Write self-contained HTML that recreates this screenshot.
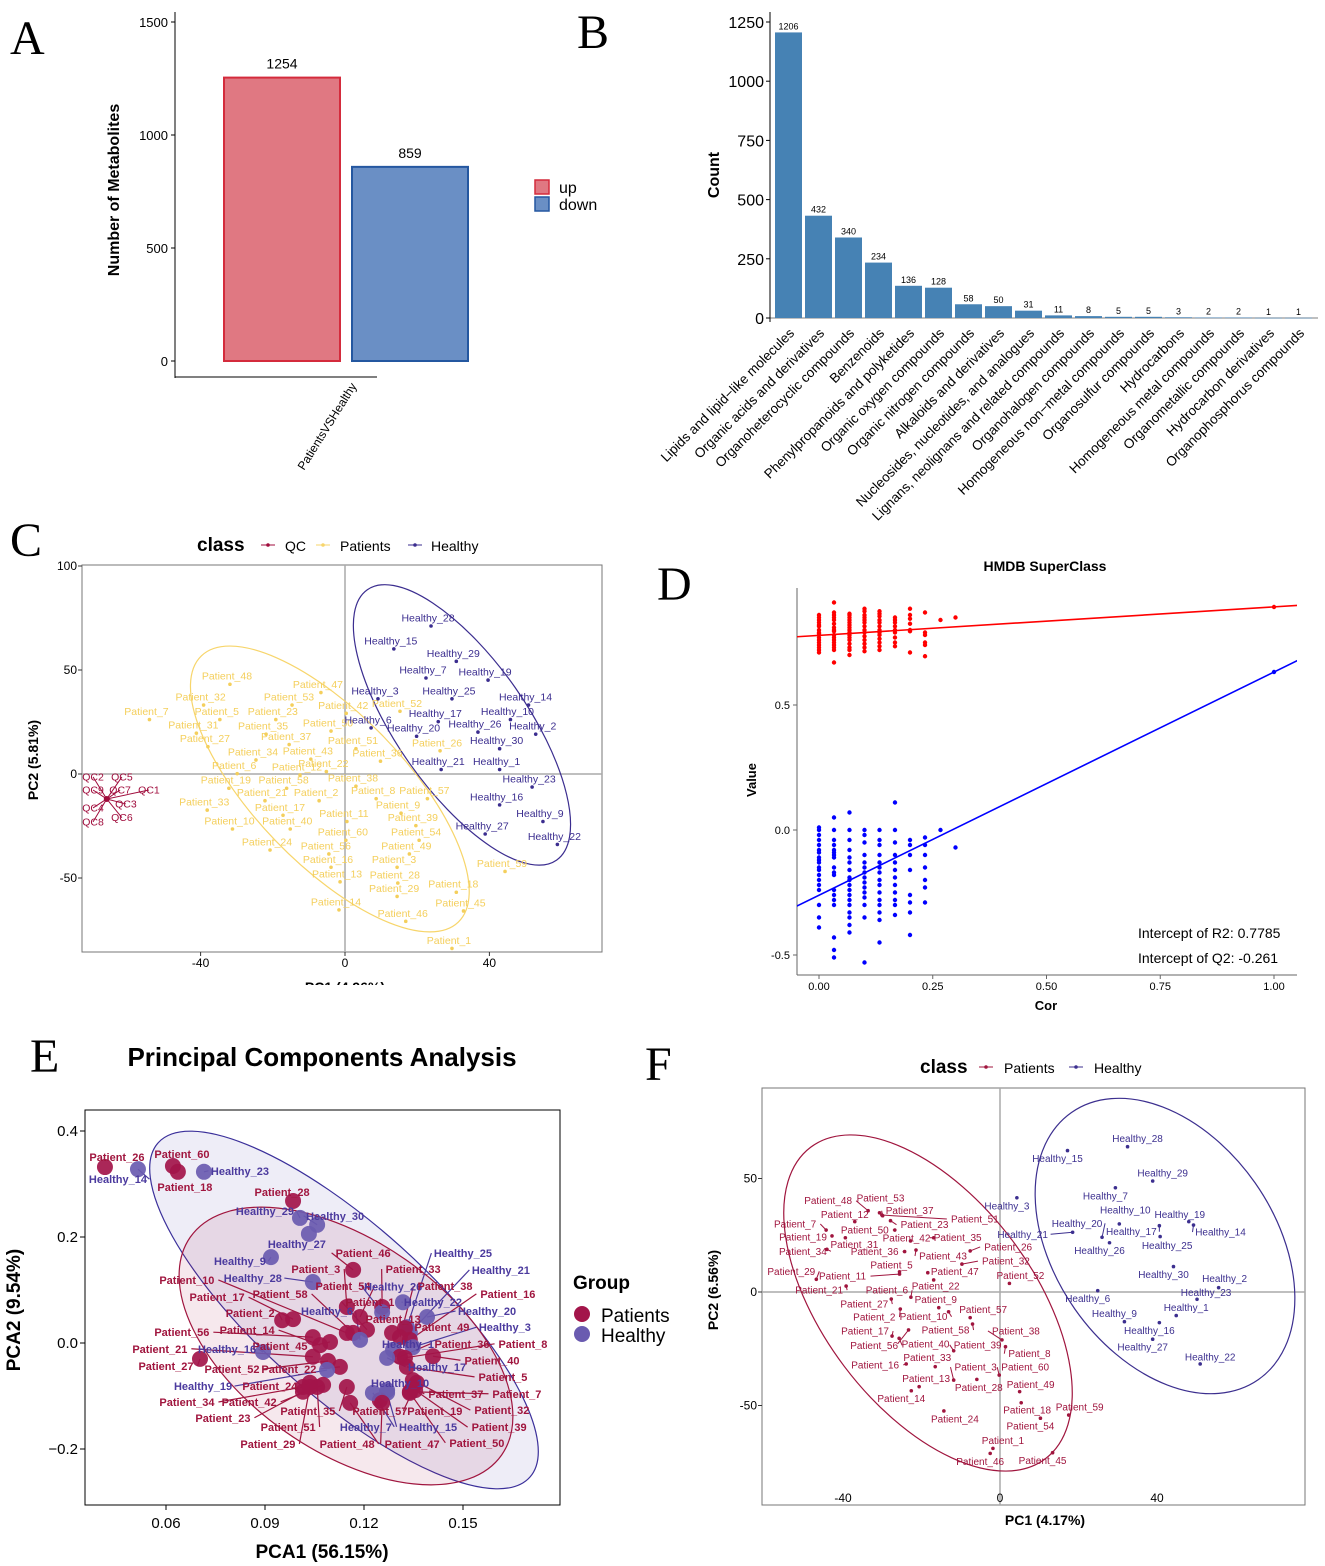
<!DOCTYPE html>
<html><head><meta charset="utf-8"><title>Metabolomics figure</title>
<style>
body{margin:0;background:#fff;}
svg{display:block;font-family:"Liberation Sans",sans-serif;}
.pl{font-family:"Liberation Serif",serif;font-size:48px;}
</style></head>
<body>
<svg id="fig" width="1325" height="1566" viewBox="0 0 1325 1566" xmlns="http://www.w3.org/2000/svg">
<rect width="1325" height="1566" fill="#fff"/>
<text class="pl" x="10" y="54">A</text>
<text class="pl" x="577" y="48">B</text>
<text class="pl" x="10" y="556">C</text>
<text class="pl" x="657" y="600">D</text>
<text class="pl" x="30" y="1072">E</text>
<text class="pl" x="645" y="1080">F</text>

<!-- Panel A static -->
<g>
<line x1="175" y1="12" x2="175" y2="378" stroke="#000"/>
<line x1="175" y1="377" x2="377" y2="377" stroke="#000"/>
<text transform="translate(119,190) rotate(-90)" text-anchor="middle" font-size="16" font-weight="bold">Number of Metabolites</text>
<text transform="translate(357,386) rotate(-58)" text-anchor="end" font-size="12">PatientsVSHealthy</text>
<rect x="535" y="180" width="14" height="14" fill="#e07882" stroke="#d42b3c" stroke-width="1.5"/>
<text x="559" y="193" font-size="16">up</text>
<rect x="535" y="197" width="14" height="14" fill="#6a8fc5" stroke="#2457a0" stroke-width="1.5"/>
<text x="559" y="210" font-size="16">down</text>
</g>
<g id="ga"></g>

<!-- Panel B static -->
<g>
<line x1="770" y1="12" x2="770" y2="322" stroke="#000"/>
<line x1="770" y1="318" x2="1318" y2="318" stroke="#000" stroke-width="0.6"/>
<text transform="translate(719,175) rotate(-90)" text-anchor="middle" font-size="16" font-weight="bold">Count</text>
</g>
<g id="gb"></g>

<!-- Panel C static -->
<g>
<text x="197" y="551" font-size="19" font-weight="bold">class</text>
<line x1="261" y1="545" x2="275" y2="545" stroke="#a00c3c"/><circle cx="268" cy="545" r="1.8" fill="#a00c3c"/>
<text x="285" y="551" font-size="14">QC</text>
<line x1="316" y1="545" x2="330" y2="545" stroke="#f7d56b"/><circle cx="323" cy="545" r="1.8" fill="#f7d56b"/>
<text x="340" y="551" font-size="14">Patients</text>
<line x1="408" y1="545" x2="422" y2="545" stroke="#3b2d8f"/><circle cx="415" cy="545" r="1.8" fill="#3b2d8f"/>
<text x="431" y="551" font-size="14">Healthy</text>
<rect x="82" y="565" width="520" height="387" fill="none" stroke="#777"/>
<line x1="82" y1="774" x2="602" y2="774" stroke="#aaa" stroke-width="1.5"/>
<line x1="345" y1="565" x2="345" y2="952" stroke="#aaa" stroke-width="1.5"/>
<text transform="translate(38,760) rotate(-90)" text-anchor="middle" font-size="14" font-weight="bold">PC2 (5.81%)</text>
<text x="345" y="992" text-anchor="middle" font-size="14" font-weight="bold">PC1 (4.96%)</text>
<rect x="250" y="985" width="200" height="12" fill="#fff"/>
</g>
<g id="gc"></g>

<!-- Panel D static -->
<g>
<text x="1045" y="571" text-anchor="middle" font-size="14" font-weight="bold">HMDB SuperClass</text>
<line x1="797" y1="588" x2="797" y2="975" stroke="#666"/>
<line x1="797" y1="975" x2="1297" y2="975" stroke="#666"/>
<text transform="translate(756,780) rotate(-90)" text-anchor="middle" font-size="13" font-weight="bold">Value</text>
<text x="1046" y="1010" text-anchor="middle" font-size="13" font-weight="bold">Cor</text>
<clipPath id="dclip"><rect x="797" y="585" width="500" height="390"/></clipPath>
<text x="1138" y="938" font-size="14" clip-path="url(#dclip)">Intercept of R2: 0.7785</text>
<text x="1138" y="963" font-size="14" clip-path="url(#dclip)">Intercept of Q2: -0.261</text>
</g>
<g id="gd" clip-path="url(#dclip)"></g>
<g id="gdt"></g>

<!-- Panel E static -->
<g>
<text x="322" y="1066" text-anchor="middle" font-size="26" font-weight="bold">Principal Components Analysis</text>
<rect x="85" y="1110" width="475" height="395" fill="none" stroke="#000"/>
<text transform="translate(20,1310) rotate(-90)" text-anchor="middle" font-size="19" font-weight="bold">PCA2 (9.54%)</text>
<text x="322" y="1558" text-anchor="middle" font-size="19" font-weight="bold">PCA1 (56.15%)</text>
<text x="573" y="1289" font-size="19" font-weight="bold">Group</text>
<circle cx="582" cy="1314" r="8" fill="#a3154a"/>
<text x="601" y="1322" font-size="19">Patients</text>
<circle cx="582" cy="1334" r="8" fill="#6a5bb0"/>
<text x="601" y="1342" font-size="19">Healthy</text>
</g>
<g id="ge"></g>

<!-- Panel F static -->
<g>
<text x="920" y="1073" font-size="19" font-weight="bold">class</text>
<line x1="979" y1="1067" x2="993" y2="1067" stroke="#a0153e"/><circle cx="986" cy="1067" r="1.8" fill="#a0153e"/>
<text x="1004" y="1073" font-size="14">Patients</text>
<line x1="1069" y1="1067" x2="1083" y2="1067" stroke="#3c2f8f"/><circle cx="1076" cy="1067" r="1.8" fill="#3c2f8f"/>
<text x="1094" y="1073" font-size="14">Healthy</text>
<rect x="762" y="1088" width="543" height="417" fill="none" stroke="#777"/>
<line x1="762" y1="1292" x2="1305" y2="1292" stroke="#aaa" stroke-width="1.5"/>
<line x1="1000" y1="1088" x2="1000" y2="1505" stroke="#aaa" stroke-width="1.5"/>
<text transform="translate(718,1290) rotate(-90)" text-anchor="middle" font-size="14" font-weight="bold">PC2 (6.56%)</text>
<text x="1045" y="1525" text-anchor="middle" font-size="14" font-weight="bold">PC1 (4.17%)</text>
</g>
<g id="gf"></g>
</svg>
<script>
// ---------- Panel A data ----------
const aCats = ['up', 'down'];
const aVals = [1254, 859];
const aTicks = [0, 500, 1000, 1500];
// ---------- Panel B data ----------
const bCats = ['Lipids and lipid\u2212like molecules','Organic acids and derivatives','Organoheterocyclic compounds','Benzenoids','Phenylpropanoids and polyketides','Organic oxygen compounds','Organic nitrogen compounds','Alkaloids and derivatives','Nucleosides, nucleotides, and analogues','Lignans, neolignans and related compounds','Organohalogen compounds','Homogeneous non\u2212metal compounds','Organosulfur compounds','Hydrocarbons','Homogeneous metal compounds','Organometallic compounds','Hydrocarbon derivatives','Organophosphorus compounds'];
const bVals = [1206, 432, 340, 234, 136, 128, 58, 50, 31, 11, 8, 5, 5, 3, 2, 2, 1, 1];
const bTicks = [0, 250, 500, 750, 1000, 1250];
// ---------- Panel C data ----------
const cTicksX = [-40, 0, 40];
const cTicksY = [-50, 0, 50, 100];
const cQC = [['QC2',-69.8,-1.4],['QC5',-61.8,-1.4],['QC9',-69.8,-7.7],['QC7',-62.3,-7.7],['QC1',-54.3,-7.7],['QC3',-60.7,-14.4],['QC4',-69.8,-16.3],['QC8',-69.8,-23],['QC6',-61.8,-21]];
const cQCCenter = [-66, -12];
const cHealthy = [['Healthy_28',23,75],['Healthy_15',12.7,64],['Healthy_29',30,58],['Healthy_7',21.6,50],['Healthy_19',38.8,49],['Healthy_3',8.3,40],['Healthy_25',28.8,40],['Healthy_14',50,37],['Healthy_17',25,29],['Healthy_10',45,30],['Healthy_6',6.4,26],['Healthy_20',19,22],['Healthy_26',36,24],['Healthy_2',52,23],['Healthy_30',42,16],['Healthy_21',25.8,6],['Healthy_1',42,6],['Healthy_23',51,-2.4],['Healthy_16',42,-11],['Healthy_9',54,-19],['Healthy_27',38,-25],['Healthy_22',58,-30]];
const cPatients = [['Patient_48',-32.7,47],['Patient_32',-40,37],['Patient_7',-55,30],['Patient_5',-35.5,30],['Patient_23',-20,30],['Patient_31',-42,23.5],['Patient_35',-22.7,23],['Patient_27',-38.8,17],['Patient_37',-16.3,18],['Patient_47',-7.5,43],['Patient_53',-15.5,37],['Patient_42',-0.5,33],['Patient_52',14.4,34],['Patient_50',-4.7,24.5],['Patient_51',2.2,16],['Patient_26',25.5,15],['Patient_34',-25.5,10.6],['Patient_43',-10.3,11],['Patient_36',9,10],['Patient_6',-30.7,4],['Patient_12',-13.3,3.4],['Patient_22',-6,5],['Patient_19',-33,-3],['Patient_58',-17,-3],['Patient_38',2.2,-2],['Patient_33',-39,-13.5],['Patient_21',-23,-9],['Patient_2',-8,-9],['Patient_8',7.8,-8],['Patient_57',22,-8],['Patient_17',-18,-16],['Patient_9',14.7,-15],['Patient_11',-0.3,-19],['Patient_39',18.8,-21],['Patient_10',-32,-22.6],['Patient_40',-16,-22.6],['Patient_60',-0.6,-28],['Patient_54',19.7,-28],['Patient_24',-21.6,-32.7],['Patient_56',-5.3,-34.6],['Patient_49',17,-34.6],['Patient_16',-4.7,-41],['Patient_3',13.6,-41],['Patient_13',-2.2,-48],['Patient_28',13.8,-48.6],['Patient_18',30,-53],['Patient_29',13.6,-55],['Patient_45',32,-62],['Patient_14',-2.5,-61.5],['Patient_46',16,-67],['Patient_59',43.5,-43],['Patient_1',28.8,-80]];
// ---------- Panel D data ----------
const dCors = [0, 0.033, 0.067, 0.1, 0.133, 0.167, 0.2, 0.233, 0.267, 0.3];
const dR2 = [
 [0.86,0.85,0.84,0.83,0.82,0.815,0.80,0.79,0.785,0.77,0.76,0.75,0.74,0.73,0.72,0.71],
 [0.91,0.87,0.86,0.85,0.84,0.825,0.81,0.80,0.795,0.78,0.77,0.76,0.75,0.74,0.73,0.72,0.67],
 [0.865,0.86,0.85,0.84,0.83,0.82,0.81,0.80,0.79,0.78,0.77,0.76,0.745,0.73,0.72,0.70],
 [0.885,0.875,0.86,0.85,0.84,0.83,0.815,0.80,0.79,0.775,0.76,0.745,0.73,0.715],
 [0.875,0.865,0.855,0.84,0.83,0.815,0.80,0.79,0.78,0.765,0.75,0.735,0.72],
 [0.85,0.84,0.83,0.815,0.80,0.79,0.77,0.75,0.735],
 [0.885,0.86,0.845,0.825,0.80,0.795,0.71],
 [0.87,0.79,0.78,0.75,0.74,0.695],
 [0.84],
 [0.85]];
const dQ2 = [
 [0.01,0.0,-0.02,-0.04,-0.06,-0.08,-0.09,-0.11,-0.12,-0.13,-0.15,-0.16,-0.18,-0.2,-0.22,-0.24,-0.3,-0.35,-0.39],
 [0.05,0.0,-0.04,-0.06,-0.08,-0.09,-0.1,-0.11,-0.15,-0.17,-0.18,-0.24,-0.26,-0.28,-0.3,-0.43,-0.48,-0.51],
 [0.07,0.0,-0.04,-0.08,-0.11,-0.13,-0.16,-0.19,-0.2,-0.22,-0.24,-0.26,-0.28,-0.3,-0.33,-0.35,-0.38,-0.41],
 [0.0,-0.02,-0.05,-0.1,-0.13,-0.15,-0.17,-0.19,-0.21,-0.23,-0.25,-0.27,-0.3,-0.35,-0.53],
 [0.0,-0.04,-0.06,-0.1,-0.13,-0.15,-0.17,-0.2,-0.22,-0.25,-0.28,-0.3,-0.33,-0.36,-0.45],
 [0.11,0.0,-0.05,-0.1,-0.13,-0.16,-0.19,-0.22,-0.25,-0.28,-0.3,-0.34],
 [-0.04,-0.06,-0.1,-0.16,-0.26,-0.29,-0.33,-0.42],
 [-0.03,-0.06,-0.1,-0.15,-0.2,-0.23,-0.29],
 [0.0],
 [-0.07]];
const dOrigR2 = [1.0, 0.892];
const dOrigQ2 = [1.0, 0.632];
const dLineR2 = [0.7785, 0.114];
const dLineQ2 = [-0.261, 0.893];
const dTicksX = [0, 0.25, 0.5, 0.75, 1.0];
const dTicksY = [-0.5, 0, 0.5];
// ---------- Panel E data ----------
const eTicksX = [0.06, 0.09, 0.12, 0.15];
const eTicksY = [-0.2, 0, 0.2, 0.4];
const eSamples = [['Patient_26','P',0.0415,0.332],['Healthy_14','H',0.0515,0.328],['Patient_60','P',0.0621,0.334],['Patient_18','P',0.0636,0.323],['Healthy_23','H',0.0715,0.323],['Patient_28','P',0.0985,0.268],['Healthy_29','H',0.1006,0.236],['Healthy_30','H',0.1058,0.223],['Healthy_27','H',0.1033,0.206],['Healthy_9','H',0.0918,0.162],['Patient_46','P',0.1167,0.138],['Patient_3','P',0.1148,0.068],['Patient_33','P',0.1255,0.068],['Healthy_25','H',0.133,0.030],['Healthy_21','H',0.1339,0.019],['Patient_10','P',0.1148,0.019],['Healthy_28','H',0.1045,0.115],['Patient_54','P',0.1188,0.049],['Healthy_26','H',0.1255,0.058],['Patient_38','P',0.1309,0.011],['Patient_16','P',0.1339,0.006],['Patient_17','P',0.0985,0.045],['Patient_58','P',0.1167,0.019],['Patient_1','P',0.1209,0.025],['Healthy_22','H',0.1318,0.077],['Patient_2','P',0.0952,0.043],['Healthy_6','H',0.1188,0.006],['Patient_13','P',0.1285,0.019],['Healthy_20','H',0.1391,0.049],['Patient_56','P',0.1045,0.011],['Patient_14','P',0.1067,-0.004],['Patient_49','P',0.1324,0.028],['Healthy_3','H',0.1348,-0.008],['Patient_45','P',0.1097,0.002],['Patient_21','P',0.1045,-0.026],['Healthy_16','H',0.0894,-0.017],['Healthy_1','H',0.1288,-0.013],['Patient_36','P',0.1309,-0.026],['Patient_8','P',0.1324,-0.028],['Patient_27','P',0.0703,-0.030],['Patient_52','P',0.1091,-0.034],['Patient_22','P',0.1127,-0.045],['Healthy_17','H',0.127,-0.028],['Patient_40','P',0.1409,-0.025],['Patient_5','P',0.133,-0.045],['Healthy_19','H',0.1088,-0.051],['Patient_24','P',0.1036,-0.075],['Healthy_10','H',0.127,-0.089],['Patient_34','P',0.1015,-0.083],['Patient_42','P',0.1076,-0.079],['Patient_37','P',0.1348,-0.083],['Patient_7','P',0.1339,-0.092],['Patient_35','P',0.1148,-0.083],['Patient_57','P',0.1248,-0.108],['Patient_19','P',0.136,-0.075],['Patient_32','P',0.1348,-0.070],['Patient_23','P',0.1015,-0.092],['Patient_51','P',0.1058,-0.083],['Healthy_7','H',0.1227,-0.094],['Healthy_15','H',0.127,-0.094],['Patient_39','P',0.1355,-0.089],['Patient_29','P',0.1036,-0.083],['Patient_48','P',0.1158,-0.113],['Patient_47','P',0.1255,-0.113],['Patient_50','P',0.1339,-0.094]];
// label offsets in px (layout only)
const eLabelOff = [[12,-10],[-20,10],[9,-12],[7,15],[36,-1],[-11,-9],[-35,-7],[18,-9],[-12,10],[-31,4],[10,-17],[-31,-38],[31,-38],[56,-74],[91,-63],[-160,-53],[-60,-4],[-17,-31],[11,-26],[45,-51],[98,-46],[-76,-22],[-73,-39],[3,-28],[30,0],[-32,-7],[-33,-29],[1,-14],[60,-6],[-131,-5],[-73,-15],[37,-1],[92,-20],[-50,4],[-153,-8],[-36,-3],[15,-6],[62,-13],[118,-14],[-34,7],[-96,8],[-51,2],[50,9],[59,4],[96,10],[-124,16],[-40,3],[13,-7],[-116,15],[-74,17],[43,7],[107,2],[-39,24],[0,11],[18,28],[89,30],[-80,26],[-29,40],[-7,34],[41,34],[84,37],[-42,57],[-3,41],[30,41],[67,50]];
// ---------- Panel F data ----------
const fTicksX = [-40, 0, 40];
const fTicksY = [-50, 0, 50];
const fHealthy = [['Healthy_28',32.5,64.0],['Healthy_15',17.2,62.3],['Healthy_29',38.9,48.9],['Healthy_7',29.4,45.9],['Healthy_3',4.3,41.5],['Healthy_10',30.4,30],['Healthy_19',48.1,31],['Healthy_14',49.3,29.5],['Healthy_17',40.6,29.2],['Healthy_25',40.8,24.4],['Healthy_20',26,24.1],['Healthy_21',18.5,26.3],['Healthy_26',27.9,21.7],['Healthy_30',44.2,11.2],['Healthy_2',55.7,1.9],['Healthy_23',50.2,-3.2],['Healthy_6',24.9,0.6],['Healthy_1',44.9,-10.4],['Healthy_9',31.7,-13.1],['Healthy_16',40.6,-13.5],['Healthy_27',38.9,-20.8],['Healthy_22',51,-31.7]];
const fHealthyOff = [[10,-8],[-10,8],[10,-8],[-10,8],[-10,8],[6,-14],[-9,-7],[27,7],[-28,6],[7,9],[-25,-14],[-50,2],[-10,8],[-10,8],[6,-9],[9,-7],[-10,8],[10,-8],[-10,-8],[-10,8],[-10,8],[10,-7]];
const fPatients = [['Patient_48',-33.6,35.8],['Patient_53',-30.7,34.9],['Patient_12',-37,31],['Patient_37',-29.9,33.6],['Patient_7',-44.3,27.3],['Patient_23',-27.9,31.4],['Patient_51',-30.1,33.9],['Patient_50',-26.8,27.3],['Patient_19',-42.8,24.7],['Patient_42',-22.8,22.5],['Patient_35',-16.9,23.9],['Patient_31',-39.4,23.9],['Patient_34',-44.1,18.8],['Patient_36',-24.3,17.8],['Patient_26',-7.6,18.1],['Patient_43',-21.4,18.5],['Patient_5',-25.6,8.9],['Patient_32',-9.7,12.3],['Patient_29',-46.8,5.6],['Patient_11',-25.6,7.9],['Patient_47',-18.4,8.5],['Patient_52',2.4,3.8],['Patient_22',-16.9,5.3],['Patient_21',-39.2,2.6],['Patient_6',-22.7,-2.3],['Patient_9',-15.6,-6.9],['Patient_27',-27.7,-3.1],['Patient_57',-7.6,-11.3],['Patient_2',-25.4,-7.5],['Patient_10',-13.1,-8.7],['Patient_58',-7,-14.1],['Patient_17',-27.5,-19.4],['Patient_38',0.5,-21.1],['Patient_56',-25.7,-20.4],['Patient_40',-23.3,-16.7],['Patient_39',-11.8,-25.9],['Patient_8',1.4,-24.1],['Patient_33',-16.5,-32.9],['Patient_16',-23.9,-31.7],['Patient_3',-11.8,-38.8],['Patient_60',-0.2,-36.6],['Patient_13',-20.6,-41.7],['Patient_28',-5.9,-38.5],['Patient_49',5,-43.9],['Patient_14',-22.6,-43.5],['Patient_59',17.5,-54.2],['Patient_18',5.4,-48.8],['Patient_24',-14.3,-52.4],['Patient_54',10.3,-55.6],['Patient_1',-1.8,-68.9],['Patient_46',-2.5,-71.1],['Patient_45',13.4,-70.8]];
const fPatientsOff = [[-40,-10],[1,-15],[-10,-7],[27,-5],[-31,-6],[34,4],[93,4],[-30,0],[-29,1],[-4,-3],[24,0],[9,7],[-24,2],[-30,0],[38,-4],[27,6],[-8,-7],[44,-3],[-25,-8],[-57,2],[27,-1],[11,-8],[2,6],[-27,4],[-24,-7],[-3,-8],[-27,5],[13,-8],[-26,8],[-25,5],[-27,6],[-27,-5],[14,-9],[-25,7],[17,14],[24,-6],[24,7],[-8,-9],[-31,1],[22,-13],[26,-8],[7,-8],[2,8],[11,-7],[-10,8],[11,-8],[6,7],[11,8],[-10,8],[10,-8],[-10,8],[-10,8]];

const NS = 'http://www.w3.org/2000/svg';
function mk(tag, attrs, parent) {
  const e = document.createElementNS(NS, tag);
  for (const k in attrs) e.setAttribute(k, attrs[k]);
  parent.appendChild(e);
  return e;
}
function txt(parent, x, y, s, size, extra) {
  const t = mk('text', Object.assign({x: x, y: y, 'font-size': size}, extra || {}), parent);
  t.textContent = s;
  return t;
}

// ---------- Panel A ----------
(function () {
  const g = document.getElementById('ga');
  const yA = v => 361 - v * 113 / 500;
  aTicks.forEach(t => {
    const tl = txt(g, 168, yA(t) + 5, String(t), 13, {'text-anchor': 'end'});
    
    
    mk('line', {x1: 171, x2: 175, y1: yA(t), y2: yA(t), stroke: '#000'}, g);
  });
  const fills = ['#e07882', '#6a8fc5'], strokes = ['#d42b3c', '#2457a0'];
  aVals.forEach((v, i) => {
    const x = 224 + i * 128;
    const r = mk('rect', {x: x, y: yA(v), width: 116, height: yA(0) - yA(v), fill: fills[i], stroke: strokes[i], 'stroke-width': 2}, g);
    
    
    const l = txt(g, x + 58, yA(v) - 9, String(v), 14, {'text-anchor': 'middle'});
    
    
  });
})();

// ---------- Panel B ----------
(function () {
  const g = document.getElementById('gb');
  const yB = v => 318 - v * 296 / 1250;
  bTicks.forEach(t => {
    const tl = txt(g, 764, yB(t) + 6, String(t), 16, {'text-anchor': 'end'});
    
    
    mk('line', {x1: 766, x2: 770, y1: yB(t), y2: yB(t), stroke: '#000'}, g);
  });
  bVals.forEach((v, i) => {
    const x = 775 + i * 30;
    const r = mk('rect', {x: x, y: yB(v), width: 27, height: Math.max(0.6, yB(0) - yB(v)), fill: '#4682b4'}, g);
    
    
    const l = txt(g, x + 13.5, yB(v) - 3, String(v), 9, {'text-anchor': 'middle'});
    
    
    const c = txt(g, 0, 0, bCats[i], 13.5, {'text-anchor': 'end', transform: 'translate(' + (x + 20) + ',334) rotate(-45)'});
    
    
  });
})();

// ---------- Panel C ----------
(function () {
  const g = document.getElementById('gc');
  const xC = v => 345 + v * 3.61, yC = v => 774 - v * 2.08;
  cTicksX.forEach(t => {
    const l = txt(g, xC(t), 967, String(t), 12, {'text-anchor': 'middle'});
    
    
    mk('line', {x1: xC(t), x2: xC(t), y1: 952, y2: 956, stroke: '#333'}, g);
  });
  cTicksY.forEach(t => {
    const l = txt(g, 77, yC(t) + 4, String(t), 12, {'text-anchor': 'end'});
    
    
    mk('line', {x1: 78, x2: 82, y1: yC(t), y2: yC(t), stroke: '#333'}, g);
  });
  const e1 = mk('ellipse', {cx: xC(-4.2), cy: yC(-7.2), rx: 185, ry: 75, fill: 'none', stroke: '#f7d56b', 'stroke-width': 1.2, transform: 'rotate(46 ' + xC(-4.2) + ' ' + yC(-7.2) + ')'}, g);
  
  
  const e2 = mk('ellipse', {cx: xC(32.4), cy: yC(23.6), rx: 165, ry: 65, fill: 'none', stroke: '#3b2d8f', 'stroke-width': 1.2, transform: 'rotate(55 ' + xC(32.4) + ' ' + yC(23.6) + ')'}, g);
  
  
  function group(arr, color, nm) {
    arr.forEach(d => {
      const p = mk('circle', {cx: xC(d[1]) + 3, cy: yC(d[2]) + 8, r: 1.8, fill: color}, g);
      
      
      const l = txt(g, xC(d[1]), yC(d[2]) + 3.5, d[0], 10.5, {'text-anchor': 'middle', fill: color});
      
      
    });
  }
  group(cPatients, '#f4cf5c', 'patient');
  group(cHealthy, '#3b2d8f', 'healthy');
  const cx = xC(cQCCenter[0]), cy = yC(cQCCenter[1]);
  cQC.forEach(d => {
    const lx = xC(d[1]), ly = yC(d[2]);
    mk('line', {x1: cx, y1: cy, x2: lx, y2: ly, stroke: '#a00c3c', 'stroke-width': 1}, g);
    const l = txt(g, lx, ly + 3.5, d[0], 10.5, {'text-anchor': 'middle', fill: '#a00c3c', stroke: '#fff', 'stroke-width': 0, 'paint-order': 'stroke'});
    
    
  });
  const q = mk('circle', {cx: cx, cy: cy, r: 3, fill: '#a00c3c'}, g);
  
  
})();

// ---------- Panel D ----------
(function () {
  const g = document.getElementById('gd'), gt = document.getElementById('gdt');
  const xD = v => 819 + v * 455, yD = v => 830 - v * 250;
  dTicksX.forEach(t => {
    const l = txt(gt, xD(t), 990, t.toFixed(2), 11, {'text-anchor': 'middle'});
    
    
    mk('line', {x1: xD(t), x2: xD(t), y1: 975, y2: 979, stroke: '#666'}, gt);
  });
  dTicksY.forEach(t => {
    const l = txt(gt, 790, yD(t) + 4, t.toFixed(1), 11, {'text-anchor': 'end'});
    
    
    mk('line', {x1: 793, x2: 797, y1: yD(t), y2: yD(t), stroke: '#666'}, gt);
  });
  function ln(p, color, nm) {
    const l = mk('line', {x1: xD(-0.06), y1: yD(p[0] + p[1] * -0.06), x2: xD(1.06), y2: yD(p[0] + p[1] * 1.06), stroke: color, 'stroke-width': 1.6}, g);
    
    
  }
  ln(dLineR2, '#ff0000', 'r2-regression-line');
  ln(dLineQ2, '#0000ff', 'q2-regression-line');
  function pts(cols, color, nm) {
    cols.forEach((col, i) => col.forEach(v => {
      const c = mk('circle', {cx: xD(dCors[i]), cy: yD(v), r: 2.2, fill: color}, g);
      
      
    }));
  }
  pts(dR2, '#ff0000', 'r2-point');
  pts(dQ2, '#0000ff', 'q2-point');
  const o1 = mk('circle', {cx: xD(dOrigR2[0]), cy: yD(dOrigR2[1]), r: 2.2, fill: '#ff0000'}, g);
  
  
  const o2 = mk('circle', {cx: xD(dOrigQ2[0]), cy: yD(dOrigQ2[1]), r: 2.2, fill: '#0000ff'}, g);
  
  
})();

// ---------- Panel E ----------
(function () {
  const g = document.getElementById('ge');
  const xE = v => 166 + (v - 0.06) * 3300, yE = v => 1343 - v * 530;
  eTicksX.forEach(t => {
    const l = txt(g, xE(t), 1528, t.toFixed(2), 15, {'text-anchor': 'middle'});
    
    
    mk('line', {x1: xE(t), x2: xE(t), y1: 1505, y2: 1510, stroke: '#000'}, g);
  });
  eTicksY.forEach(t => {
    const l = txt(g, 78, yE(t) + 5, (t < 0 ? '\u2212' + (-t).toFixed(1) : t.toFixed(1)), 15, {'text-anchor': 'end'});
    
    
    mk('line', {x1: 80, x2: 85, y1: yE(t), y2: yE(t), stroke: '#000'}, g);
  });
  const eb = mk('ellipse', {cx: 344, cy: 1310, rx: 250, ry: 85, fill: 'rgba(70,60,170,0.09)', stroke: '#3a2f9a', 'stroke-width': 1.2, transform: 'rotate(42 344 1310)'}, g);
  
  
  const er = mk('ellipse', {cx: 346, cy: 1346, rx: 190, ry: 105, fill: 'rgba(170,30,80,0.10)', stroke: '#a0153e', 'stroke-width': 1.2, transform: 'rotate(35 346 1346)'}, g);
  
  
  const gl = mk('g', {}, g), gp = mk('g', {}, g), gtx = mk('g', {}, g);
  eSamples.forEach((d, i) => {
    const px = xE(d[2]), py = yE(d[3]);
    const col = d[1] === 'P' ? '#a3154a' : '#6a5bb0';
    const tcol = d[1] === 'P' ? '#a0153e' : '#4b3a9e';
    const off = eLabelOff[i];
    const lx = px + off[0], ly = py + off[1];
    const w = d[0].length * 6.3;
    if (Math.abs(off[0]) + Math.abs(off[1]) > 25) {
      const ex = off[0] > 0 ? lx - w / 2 : lx + w / 2;
      mk('line', {x1: px, y1: py, x2: ex, y2: ly, stroke: tcol, 'stroke-width': 1.2}, gl);
    }
    const c = mk('circle', {cx: px, cy: py, r: 8, fill: col, 'fill-opacity': 0.92}, gp);
    
    
    const t = txt(gtx, lx, ly + 4, d[0], 11, {'text-anchor': 'middle', fill: tcol, 'font-weight': 'bold'});
    
    
  });
})();

// ---------- Panel F ----------
(function () {
  const g = document.getElementById('gf');
  const xF = v => 1000 + v * 3.925, yF = v => 1292 - v * 2.27;
  fTicksX.forEach(t => {
    const l = txt(g, xF(t), 1502, String(t), 12, {'text-anchor': 'middle'});
    
    
  });
  fTicksY.forEach(t => {
    const l = txt(g, 757, yF(t) + 4, String(t), 12, {'text-anchor': 'end'});
    
    
    mk('line', {x1: 758, x2: 762, y1: yF(t), y2: yF(t), stroke: '#333'}, g);
  });
  const e1 = mk('ellipse', {cx: 928, cy: 1303, rx: 195, ry: 105, fill: 'none', stroke: '#a0153e', 'stroke-width': 1.2, transform: 'rotate(53 928 1303)'}, g);
  
  
  const e2 = mk('ellipse', {cx: 1165, cy: 1246, rx: 163, ry: 110, fill: 'none', stroke: '#3c2f8f', 'stroke-width': 1.2, transform: 'rotate(55 1165 1246)'}, g);
  
  
  function group(arr, offs, color, nm) {
    arr.forEach((d, i) => {
      const px = xF(d[1]), py = yF(d[2]);
      const off = offs[i];
      const lx = px + off[0], ly = py + off[1];
      if (Math.abs(off[0]) + Math.abs(off[1]) > 22) {
        const w = d[0].length * 5.6;
        const ex = off[0] > 0 ? lx - w / 2 : lx + w / 2;
        mk('line', {x1: px, y1: py, x2: ex, y2: ly, stroke: color, 'stroke-width': 1}, g);
      }
      const c = mk('circle', {cx: px, cy: py, r: 1.8, fill: color}, g);
      
      
      const t = txt(g, lx, ly + 3.5, d[0], 10, {'text-anchor': 'middle', fill: color});
      
      
    });
  }
  group(fPatients, fPatientsOff, '#a0153e', 'patient');
  group(fHealthy, fHealthyOff, '#3c2f8f', 'healthy');
})();
</script>
</body></html>
